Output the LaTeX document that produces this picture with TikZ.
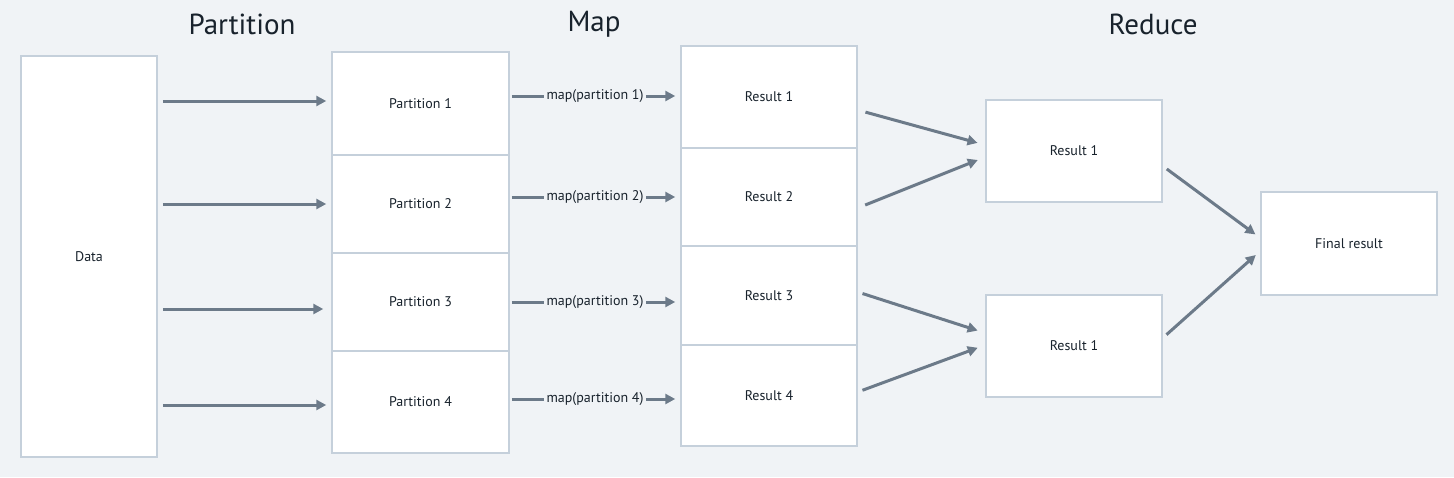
\documentclass[tikz,border=0pt]{standalone}
\usepackage{fontspec}
\setmainfont{PT Sans}
\usetikzlibrary{arrows.meta}

\definecolor{bgcol}{HTML}{F0F3F6}
\definecolor{boxline}{HTML}{C5D0DB}
\definecolor{arrowcol}{HTML}{6C7A89}
\definecolor{textcol}{HTML}{18222C}

\tikzset{
    stagebox/.style={draw=boxline, line width=1.5pt, fill=white, text=textcol, font=\fontsize{14}{16}\selectfont},
    heading/.style={text=textcol, font=\fontsize{29}{32}\selectfont},
    flow/.style={draw=arrowcol, line width=3pt, -{Triangle[length=10pt,width=10pt]}},
    maplabel/.style={fill=bgcol, text=textcol, inner sep=3pt, font=\fontsize{14}{16}\selectfont}
}

\begin{document}
\begin{tikzpicture}[x=1pt, y=-1pt]
    % Background
    \fill[bgcol] (0,0) rectangle (1454,477);
    \useasboundingbox (0,0) rectangle (1454,477);

    % Headings
    \node[heading] (hpart) at (242,24) {Partition};
    \node[heading] (hmap) at (594,24) {Map};
    \node[heading] (hred) at (1153,24) {Reduce};

    % Input data
    \node[stagebox, minimum width=136pt, minimum height=401pt] (data) at (89,256.5) {Data};

    % Partitions
    \node[stagebox, minimum width=177pt, minimum height=103pt] (part1) at (420.5,103.5) {Partition 1};
    \node[stagebox, minimum width=177pt, minimum height=98pt] (part2) at (420.5,204) {Partition 2};
    \node[stagebox, minimum width=177pt, minimum height=98pt] (part3) at (420.5,302) {Partition 3};
    \node[stagebox, minimum width=177pt, minimum height=102pt] (part4) at (420.5,402) {Partition 4};

    % Map results
    \node[stagebox, minimum width=176pt, minimum height=102pt] (res1) at (769,97) {Result 1};
    \node[stagebox, minimum width=176pt, minimum height=98pt] (res2) at (769,197) {Result 2};
    \node[stagebox, minimum width=176pt, minimum height=99pt] (res3) at (769,295.5) {Result 3};
    \node[stagebox, minimum width=176pt, minimum height=101pt] (res4) at (769,395.5) {Result 4};

    % Reduce results
    \node[stagebox, minimum width=176pt, minimum height=102pt] (red1) at (1074,151) {Result 1};
    \node[stagebox, minimum width=176pt, minimum height=102pt] (red2) at (1074,346) {Result 1};
    \node[stagebox, minimum width=176pt, minimum height=103pt] (final) at (1349,243.5) {Final result};

    % Data to partitions
    \draw[flow, shorten <=5pt, shorten >=5pt] (data.east |- 0,101) -- (part1.west |- 0,101);
    \draw[flow, shorten <=5pt, shorten >=5pt] (data.east |- part2.west) -- (part2.west);
    \draw[flow, shorten <=5pt, shorten >=8pt] (data.east |- 0,309) -- (part3.west |- 0,309);
    \draw[flow, shorten <=5pt, shorten >=5pt] (data.east |- 0,405) -- (part4.west |- 0,405);

    % Map step
    \draw[flow, shorten <=2pt, shorten >=5pt] (part1.east |- 0,96) -- node[maplabel] {map(partition 1)} (res1.west |- 0,96);
    \draw[flow, shorten <=2pt, shorten >=5pt] (part2.east |- res2.west) -- node[maplabel] {map(partition 2)} (res2.west);
    \draw[flow, shorten <=2pt, shorten >=5pt] (part3.east |- 0,302) -- node[maplabel] {map(partition 3)} (res3.west |- 0,302);
    \draw[flow, shorten <=2pt, shorten >=5pt] (part4.east |- 0,399) -- node[maplabel] {map(partition 4)} (res4.west |- 0,399);

    % Reduce step
    \draw[flow, shorten <=8pt, shorten >=8pt] (res1.east |- 0,110) -- (red1.west |- 0,145);
    \draw[flow, shorten <=8pt, shorten >=8pt] (res2.east |- 0,208) -- (red1.west |- 0,157);
    \draw[flow, shorten <=5pt, shorten >=8pt] (res3.east |- 0,292) -- (red2.west |- 0,333);
    \draw[flow, shorten <=5pt, shorten >=8pt] (res4.east |- 0,392) -- (red2.west |- 0,345);

    % Final
    \draw[flow, shorten <=5pt, shorten >=6pt] (red1.east |- 0,166) -- (final.west |- 0,238);
    \draw[flow, shorten <=5pt, shorten >=6pt] (red2.east |- 0,338) -- (final.west |- 0,251);
\end{tikzpicture}
\end{document}
